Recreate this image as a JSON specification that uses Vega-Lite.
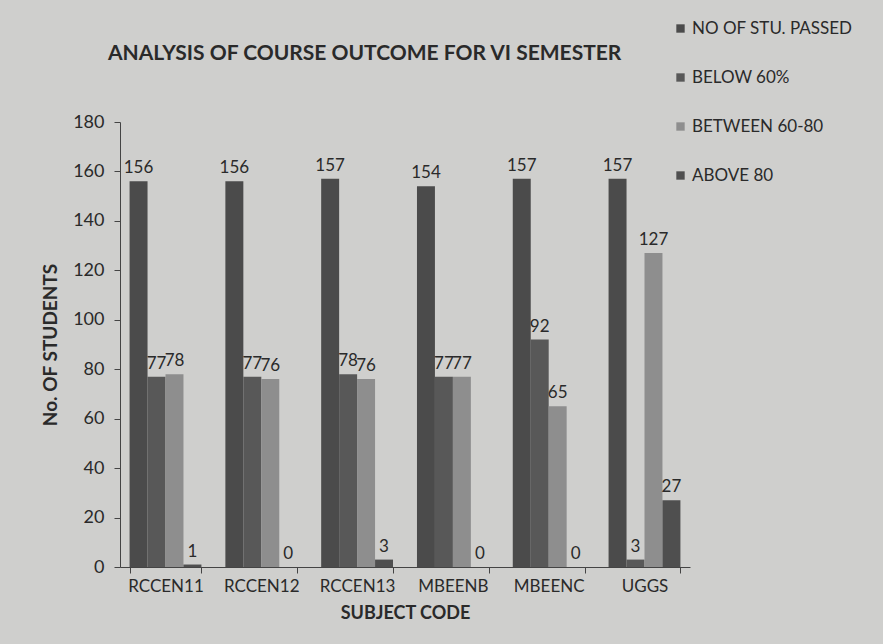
{
  "$schema": "https://vega.github.io/schema/vega-lite/v6.json",
  "autosize": {"type": "none"},
  "width": 570,
  "height": 445,
  "padding": {"left": 120, "top": 122, "right": 193, "bottom": 77},
  "background": "#cfcfcd",
  "config": {
    "font": "Lato",
    "view": {"stroke": null},
    "axis": {"labelFont": "Lato", "titleFont": "Lato", "labelColor": "#2a2a2a", "titleColor": "#2a2a2a", "domainColor": "#444", "tickColor": "#444"}
  },
  "title": {
    "text": "ANALYSIS OF COURSE OUTCOME FOR VI SEMESTER",
    "fontSize": 21,
    "fontWeight": "bold",
    "color": "#2a2a2a",
    "anchor": "start",
    "frame": "group",
    "offset": -44,
    "dx": -12
  },
  "data": {
    "values": [
      {"subject": "RCCEN11", "series": "NO OF STU. PASSED", "value": 156},
      {"subject": "RCCEN11", "series": "BELOW 60%", "value": 77},
      {"subject": "RCCEN11", "series": "BETWEEN 60-80", "value": 78},
      {"subject": "RCCEN11", "series": "ABOVE 80", "value": 1},
      {"subject": "RCCEN12", "series": "NO OF STU. PASSED", "value": 156},
      {"subject": "RCCEN12", "series": "BELOW 60%", "value": 77},
      {"subject": "RCCEN12", "series": "BETWEEN 60-80", "value": 76},
      {"subject": "RCCEN12", "series": "ABOVE 80", "value": 0},
      {"subject": "RCCEN13", "series": "NO OF STU. PASSED", "value": 157},
      {"subject": "RCCEN13", "series": "BELOW 60%", "value": 78},
      {"subject": "RCCEN13", "series": "BETWEEN 60-80", "value": 76},
      {"subject": "RCCEN13", "series": "ABOVE 80", "value": 3},
      {"subject": "MBEENB", "series": "NO OF STU. PASSED", "value": 154},
      {"subject": "MBEENB", "series": "BELOW 60%", "value": 77},
      {"subject": "MBEENB", "series": "BETWEEN 60-80", "value": 77},
      {"subject": "MBEENB", "series": "ABOVE 80", "value": 0},
      {"subject": "MBEENC", "series": "NO OF STU. PASSED", "value": 157},
      {"subject": "MBEENC", "series": "BELOW 60%", "value": 92},
      {"subject": "MBEENC", "series": "BETWEEN 60-80", "value": 65},
      {"subject": "MBEENC", "series": "ABOVE 80", "value": 0},
      {"subject": "UGGS", "series": "NO OF STU. PASSED", "value": 157},
      {"subject": "UGGS", "series": "BELOW 60%", "value": 3},
      {"subject": "UGGS", "series": "BETWEEN 60-80", "value": 127},
      {"subject": "UGGS", "series": "ABOVE 80", "value": 27}
    ]
  },
  "encoding": {
    "x": {
      "field": "subject",
      "type": "nominal",
      "sort": ["RCCEN11", "RCCEN12", "RCCEN13", "MBEENB", "MBEENC", "UGGS"],
      "scale": {"paddingInner": 0.25, "paddingOuter": 0.1},
      "axis": {
        "title": "SUBJECT CODE",
        "titleFontSize": 18,
        "titleFontWeight": "bold",
        "titlePadding": 10,
        "labelAngle": 0,
        "labelFontSize": 17,
        "labelPadding": 5,
        "ticks": true,
        "tickBand": "extent",
        "tickSize": 6
      }
    },
    "xOffset": {
      "field": "series",
      "type": "nominal",
      "sort": ["NO OF STU. PASSED", "BELOW 60%", "BETWEEN 60-80", "ABOVE 80"],
      "scale": {"paddingInner": 0}
    },
    "y": {
      "field": "value",
      "type": "quantitative",
      "scale": {"domain": [0, 180]},
      "axis": {
        "title": "No. OF STUDENTS",
        "titleFontSize": 19,
        "titleFontWeight": "bold",
        "titlePadding": 12,
        "values": [0, 20, 40, 60, 80, 100, 120, 140, 160, 180],
        "labelFontSize": 18,
        "grid": false,
        "tickSize": 6,
        "labelPadding": 10
      }
    }
  },
  "layer": [
    {
      "mark": {"type": "bar"},
      "encoding": {
        "color": {
          "field": "series",
          "type": "nominal",
          "sort": ["NO OF STU. PASSED", "BELOW 60%", "BETWEEN 60-80", "ABOVE 80"],
          "scale": {
            "domain": ["NO OF STU. PASSED", "BELOW 60%", "BETWEEN 60-80", "ABOVE 80"],
            "range": ["#4b4b4b", "#585858", "#8e8e8e", "#4f4f4f"]
          },
          "legend": {
            "title": null,
            "orient": "none",
            "legendX": 552,
            "legendY": -102,
            "labelFontSize": 17,
            "labelColor": "#2a2a2a",
            "labelLimit": 300,
            "symbolType": "square",
            "symbolSize": 70,
            "rowPadding": 31,
            "labelOffset": 3
          }
        }
      }
    },
    {
      "mark": {"type": "text", "dy": -13, "fontSize": 17, "color": "#2a2a2a"},
      "encoding": {
        "text": {"field": "value", "type": "quantitative"}
      }
    }
  ]
}
